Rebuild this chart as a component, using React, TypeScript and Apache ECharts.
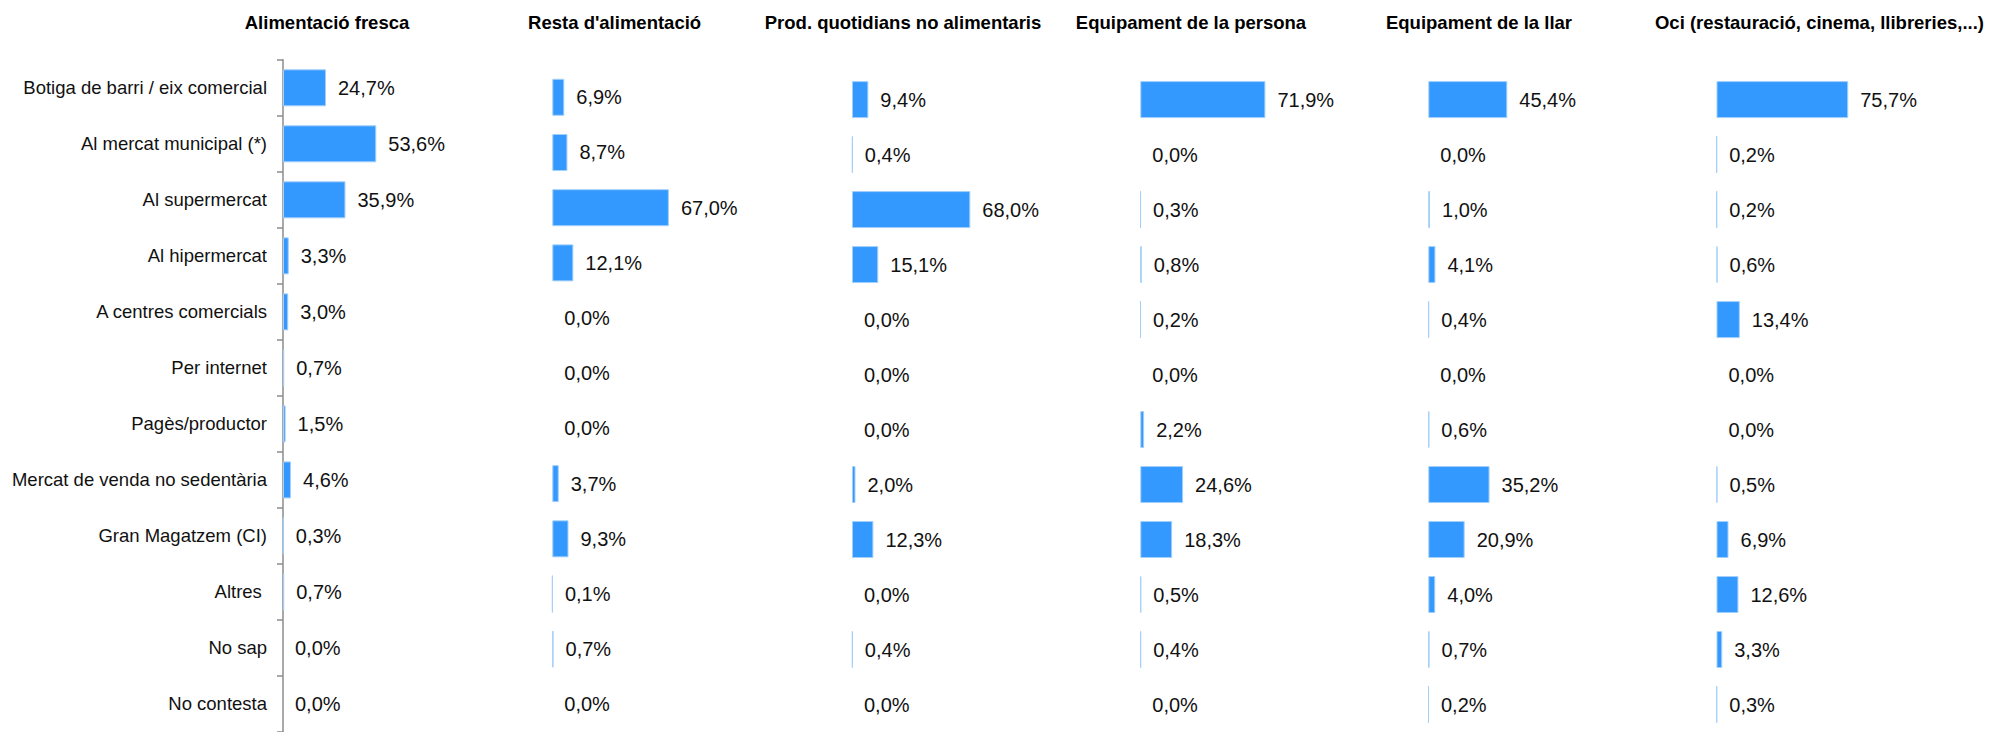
import React, { useEffect, useRef } from "react";
import * as echarts from "echarts";

const categories = [
  "Botiga de barri / eix comercial",
  "Al mercat municipal (*)",
  "Al supermercat",
  "Al hipermercat",
  "A centres comercials",
  "Per internet",
  "Pagès/productor",
  "Mercat de venda no sedentària",
  "Gran Magatzem (CI)",
  "Altres ",
  "No sap",
  "No contesta",
];

const panelTitles = [
  "Alimentació fresca",
  "Resta d'alimentació",
  "Prod. quotidians no alimentaris",
  "Equipament de la persona",
  "Equipament de la llar",
  "Oci (restauració, cinema, llibreries,...)",
];

const alimentacioFresca = [24.7, 53.6, 35.9, 3.3, 3.0, 0.7, 1.5, 4.6, 0.3, 0.7, 0.0, 0.0];
const restaAlimentacio = [6.9, 8.7, 67.0, 12.1, 0.0, 0.0, 0.0, 3.7, 9.3, 0.1, 0.7, 0.0];
const prodQuotidians = [9.4, 0.4, 68.0, 15.1, 0.0, 0.0, 0.0, 2.0, 12.3, 0.0, 0.4, 0.0];
const equipPersona = [71.9, 0.0, 0.3, 0.8, 0.2, 0.0, 2.2, 24.6, 18.3, 0.5, 0.4, 0.0];
const equipLlar = [45.4, 0.0, 1.0, 4.1, 0.4, 0.0, 0.6, 35.2, 20.9, 4.0, 0.7, 0.2];
const oci = [75.7, 0.2, 0.2, 0.6, 13.4, 0.0, 0.0, 0.5, 6.9, 12.6, 3.3, 0.3];

const seriesValues = [alimentacioFresca, restaAlimentacio, prodQuotidians, equipPersona, equipLlar, oci];

// layout (pixels)
const gridLefts = [283, 552.3, 852, 1140.3, 1428.3, 1716.5];
const gridTops = [59.8, 69.7, 72.1, 72.1, 72.1, 72.1];
const gridHeights = [678, 662.4, 662.4, 662.4, 662.4, 662.4];
const titleCenters = [327, 614.6, 903, 1191, 1479, 1819.5];
const GRID_WIDTH = 174;

const FONT = "'Liberation Sans', Arial, sans-serif";

export default function App() {
  const ref = useRef<HTMLDivElement>(null);

  useEffect(() => {
    if (!ref.current) return;
    const chart = echarts.init(ref.current, null, { renderer: "svg" });

    const fmt = (v: number) => v.toFixed(1).replace(".", ",") + "%";

    const option: any = {
      animation: false,
      backgroundColor: "#ffffff",
      title: panelTitles.map((t, i) => ({
        text: t,
        left: titleCenters[i],
        top: 13,
        textAlign: "center",
        padding: 0,
        textStyle: {
          fontFamily: FONT,
          fontSize: 18.5,
          fontWeight: "bold",
          color: "#000000",
        },
      })),
      grid: seriesValues.map((_, i) => ({
        left: gridLefts[i],
        top: gridTops[i],
        width: GRID_WIDTH,
        height: gridHeights[i],
        containLabel: false,
      })),
      xAxis: seriesValues.map((_, i) => ({
        type: "value",
        gridIndex: i,
        min: 0,
        max: 100,
        show: false,
      })),
      yAxis: seriesValues.map((_, i) => ({
        type: "category",
        gridIndex: i,
        data: categories,
        inverse: true,
        show: i === 0,
        axisLine: { show: i === 0, lineStyle: { color: "#8c8c8c", width: 1.5 } },
        axisTick: { show: i === 0, length: 6, lineStyle: { color: "#8c8c8c", width: 1.5 } },
        axisLabel: {
          show: i === 0,
          margin: 16,
          fontFamily: FONT,
          fontSize: 18.5,
          color: "#111111",
        },
        splitLine: { show: false },
      })),
      series: seriesValues.map((vals, i) => ({
        type: "bar",
        xAxisIndex: i,
        yAxisIndex: i,
        barWidth: 37,
        data: vals.map((v) => ({
          value: v,
          itemStyle: v === 0 ? { borderWidth: 0 } : undefined,
        })),
        itemStyle: {
          color: "#3399ff",
          borderColor: "#a3cffa",
          borderWidth: 1,
        },
        label: {
          show: true,
          position: "right",
          distance: 12,
          formatter: (p: any) => fmt(p.value),
          fontFamily: FONT,
          fontSize: 20,
          color: "#111111",
        },
      })),
    };

    chart.setOption(option);
    return () => chart.dispose();
  }, []);

  return (
    <div
      ref={ref}
      style={{ position: "fixed", left: 0, top: 0, width: 1989, height: 732, background: "#fff" }}
    />
  );
}
